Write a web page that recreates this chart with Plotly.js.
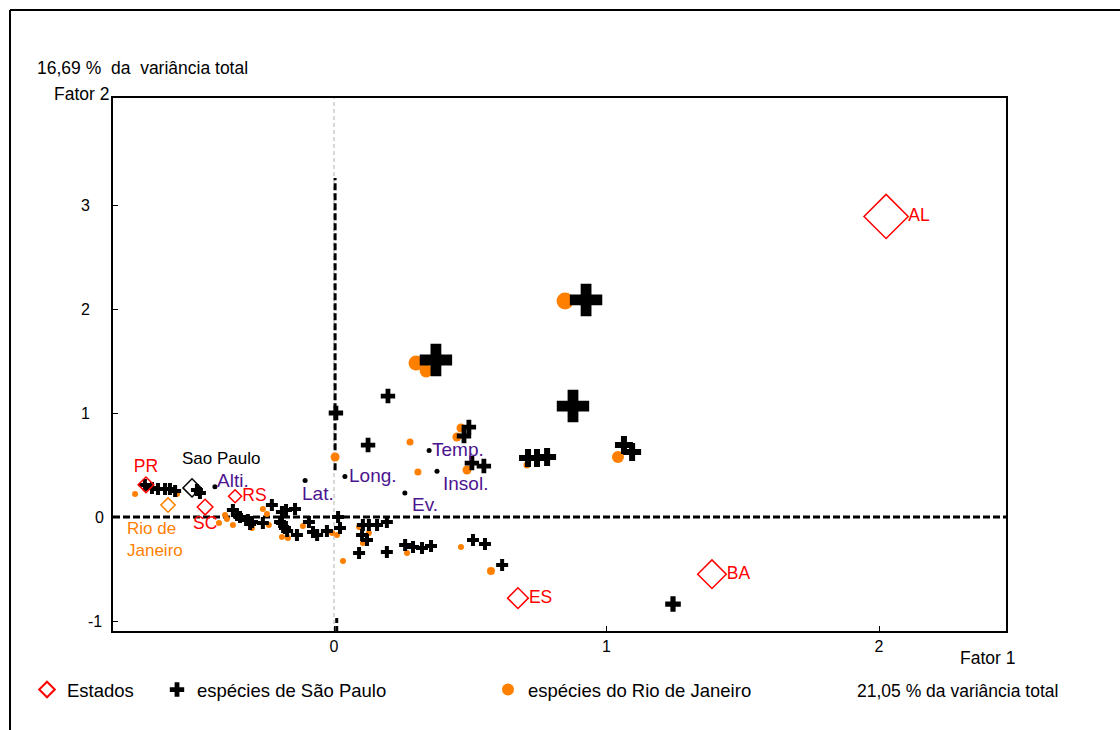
<!DOCTYPE html>
<html>
<head>
<meta charset="utf-8">
<script src="https://cdn.plot.ly/plotly-3.0.1.min.js"></script>
<style>html,body{margin:0;padding:0;background:#fff;}#chart{width:1120px;height:730px;}</style>
</head>
<body>
<div id="chart"></div>
<script>
// ---- Axis ticks ----
const xTickVals = [0, 1, 2];
const xTickText = ['0', '1', '2'];
const yTickVals = [-1, 0, 1, 2, 3];
const yTickText = ['-1', '0', '1', '2', '3'];
const yTickShift = [-9, -7, -21, -21, -21];

// ---- Estados (states) ----
const stateNames = ['PR', 'SC', 'RS', 'ES', 'BA', 'AL'];
const stateF1 = [-0.69, -0.473, -0.363, 0.675, 1.387, 2.026];
const stateF2 = [0.31, 0.096, 0.20, -0.78, -0.55, 2.89];
const stateSize = [12, 12, 10, 16, 22, 34];
const stateTextPos = ['top center', 'bottom center', 'middle right', 'middle right', 'middle right', 'middle right'];

// ---- Group centroids ----
const groupNames = ['Sao Paulo', 'Rio de<br>Janeiro'];
const groupF1 = [-0.521, -0.609];
const groupF2 = [0.28, 0.115];
const groupShiftX = [29, -13];
const groupShiftY = [29, -34];

// ---- Environmental variables ----
const varNames = ['Alti.', 'Lat.', 'Long.', 'Temp.', 'Insol.', 'Ev.'];
const varF1 = [-0.437, -0.106, 0.04, 0.349, 0.378, 0.26];
const varF2 = [0.29, 0.35, 0.39, 0.64, 0.44, 0.23];
const varShiftX = [18, 13, 28, 29, 28, 20];
const varShiftY = [6, -13, 1, 1, -12, -11];

// ---- espécies de São Paulo ----
const spF1 = [0.925, 0.374, 0.877, 1.064, 1.094, 0.712, 0.745, 0.782, 0.198, 0.007,
  0.495, 0.477, 0.125, 0.506, 0.550, 1.244,
  -0.694, -0.668, -0.646, -0.620, -0.602, -0.583, -0.503, -0.492,
  -0.371, -0.356, -0.345, -0.316, -0.301, -0.261, -0.228, -0.191, -0.176, -0.143,
  -0.191, -0.180, -0.172, -0.136, -0.092, -0.077, -0.062, -0.026, 0.015, 0.022,
  0.106, 0.128, 0.158, 0.194, 0.103, 0.121, 0.092, 0.194,
  0.261, 0.290, 0.323, 0.356, 0.510, 0.554, 0.617, -0.308, -0.198];
const spF2 = [2.087, 1.510, 1.067, 0.692, 0.625, 0.567, 0.567, 0.577, 1.163, 1.0,
  0.865, 0.779, 0.692, 0.519, 0.490, -0.837,
  0.308, 0.279, 0.269, 0.269, 0.269, 0.250, 0.260, 0.231,
  0.067, 0.019, 0.0, -0.029, -0.048, -0.058, 0.115, 0.048, 0.067, 0.077,
  -0.058, -0.106, -0.135, -0.173, -0.048, -0.144, -0.173, -0.135, 0.0, -0.106,
  -0.077, -0.077, -0.077, -0.048, -0.173, -0.221, -0.346, -0.337,
  -0.269, -0.288, -0.298, -0.279, -0.221, -0.260, -0.462, -0.067, -0.048];
const spSize = [27, 27, 27, 15, 15, 15, 15, 15, 12, 12,
  12, 12, 12, 12, 12, 13,
  10, 10, 10, 10, 10, 10, 10, 10,
  10, 10, 10, 10, 10, 10, 10, 10, 10, 10,
  10, 10, 10, 10, 10, 10, 10, 10, 10, 10,
  10, 10, 10, 10, 10, 10, 10, 10,
  10, 10, 10, 10, 10, 10, 10, 10, 10];

// ---- espécies do Rio de Janeiro ----
const rjF1 = [0.848, 0.301, 0.338, 1.042, 0.466, 0.451, 0.488, 0.708,
  0.004, 0.279, 0.308, -0.730, -0.576, -0.400, -0.393, -0.422, -0.371, -0.301,
  -0.261, -0.246, -0.191, -0.169, -0.114, -0.007, 0.011, 0.033, 0.092, 0.128,
  0.106, 0.268, 0.466, 0.576, -0.239];
const rjF2 = [2.077, 1.481, 1.404, 0.577, 0.856, 0.769, 0.452, 0.50,
  0.577, 0.721, 0.433, 0.221, 0.221, 0.019, -0.019, -0.058, -0.077, -0.106,
  0.077, 0.029, -0.192, -0.202, -0.087, -0.154, -0.173, -0.423, -0.096, -0.154,
  -0.25, -0.346, -0.288, -0.519, -0.077];
const rjSize = [17, 15, 13, 12, 9, 9, 9, 7,
  9, 7, 7, 6, 6, 6, 6, 6, 6, 6,
  6, 6, 6, 6, 6, 6, 6, 6, 6, 6,
  6, 6, 6, 8, 6];

const FONT = 'Liberation Sans, Arial, sans-serif';
const ORANGE = '#ff8000';
const PURPLE = '#4b1490';

// pixel helpers for paper coords (plot area 113..1006 x 98..631)
const px = x => (x - 113) / 893;
const py = y => (631 - y) / 533;

const traces = [
  {
    type: 'scatter', mode: 'markers', name: 'espécies do Rio de Janeiro',
    x: rjF1, y: rjF2, legend: 'legend3',
    marker: {symbol: 'circle', color: ORANGE, size: rjSize, opacity: 1, line: {width: 0}},
    hoverinfo: 'x+y'
  },
  {
    type: 'scatter', mode: 'markers', name: 'espécies de São Paulo',
    x: spF1, y: spF2, legend: 'legend2',
    marker: {symbol: 'cross', color: '#000', size: spSize, opacity: 1, line: {width: 0}},
    hoverinfo: 'x+y'
  },
  {
    type: 'scatter', mode: 'markers+text', name: 'Estados',
    x: stateF1, y: stateF2, text: stateNames, textposition: stateTextPos,
    legend: 'legend',
    textfont: {family: FONT, size: 17.5, color: '#ff0000'},
    marker: {symbol: 'diamond-open', color: '#ff0000', size: stateSize, opacity: 1, line: {width: 1.5, color: '#ff0000'}},
    cliponaxis: false
  },
  {
    type: 'scatter', mode: 'markers', showlegend: false,
    x: [groupF1[0]], y: [groupF2[0]],
    marker: {symbol: 'diamond-open', color: '#000', size: 14, line: {width: 1.5}}
  },
  {
    type: 'scatter', mode: 'markers', showlegend: false,
    x: [groupF1[1]], y: [groupF2[1]],
    marker: {symbol: 'diamond-open', color: ORANGE, size: 11, line: {width: 1.5}}
  },
  {
    type: 'scatter', mode: 'markers', showlegend: false,
    x: varF1, y: varF2,
    marker: {symbol: 'circle', color: '#000', size: 5}
  }
];

const legendBase = {
  orientation: 'h', yanchor: 'middle', xanchor: 'left', y: py(690),
  font: {family: FONT, size: 18.5, color: '#000'}, bgcolor: 'rgba(0,0,0,0)',
  itemsizing: 'constant'
};

const annotations = [
  {xref: 'paper', yref: 'paper', x: px(35), y: py(68), xanchor: 'left', yanchor: 'middle', showarrow: false,
   text: '16,69 %  da  variância total', font: {family: FONT, size: 17.5, color: '#000'}},
  {xref: 'paper', yref: 'paper', x: px(52), y: py(94), xanchor: 'left', yanchor: 'middle', showarrow: false,
   text: 'Fator 2', font: {family: FONT, size: 17.5, color: '#000'}},
  {xref: 'paper', yref: 'paper', x: px(958), y: py(658), xanchor: 'left', yanchor: 'middle', showarrow: false,
   text: 'Fator 1', font: {family: FONT, size: 17.5, color: '#000'}},
  {xref: 'paper', yref: 'paper', x: px(855), y: py(691), xanchor: 'left', yanchor: 'middle', showarrow: false,
   text: '21,05 % da variância total', font: {family: FONT, size: 17.5, color: '#000'}}
];
yTickVals.forEach((v, i) => annotations.push({
  xref: 'paper', yref: 'y', x: 0, y: v, text: yTickText[i], showarrow: false,
  xanchor: 'right', yanchor: 'middle', xshift: yTickShift[i],
  font: {family: FONT, size: 16, color: '#000'}
}));
groupNames.forEach((t, i) => annotations.push({
  xref: 'x', yref: 'y', x: groupF1[i], y: groupF2[i], text: t, showarrow: false,
  xshift: groupShiftX[i], yshift: groupShiftY[i], align: 'left',
  font: {family: FONT, size: 17, color: i === 0 ? '#000' : ORANGE}
}));
varNames.forEach((t, i) => annotations.push({
  xref: 'x', yref: 'y', x: varF1[i], y: varF2[i], text: t, showarrow: false,
  xshift: varShiftX[i], yshift: varShiftY[i],
  font: {family: FONT, size: 19, color: PURPLE}
}));

const layout = {
  width: 1120, height: 730,
  margin: {l: 113, r: 114, t: 98, b: 99},
  paper_bgcolor: '#fff', plot_bgcolor: '#fff',
  font: {family: FONT, size: 14, color: '#000'},
  showlegend: true,
  legend: Object.assign({}, legendBase, {x: px(27)}),
  legend2: Object.assign({}, legendBase, {x: px(157)}),
  legend3: Object.assign({}, legendBase, {x: px(488)}),
  xaxis: {
    range: [-0.811, 2.466], tickvals: xTickVals, ticktext: xTickText,
    showgrid: false, zeroline: false, showline: true, mirror: true,
    linecolor: '#000', linewidth: 2, ticks: 'inside', ticklen: 5, tickcolor: '#000',
    tickfont: {family: FONT, size: 16, color: '#000'}
  },
  yaxis: {
    range: [-1.096, 4.029], tickvals: yTickVals, showticklabels: false,
    showgrid: false, zeroline: false, showline: true, mirror: true,
    linecolor: '#000', linewidth: 2, ticks: 'inside', ticklen: 5, tickcolor: '#000'
  },
  shapes: [
    {type: 'line', xref: 'paper', yref: 'paper', x0: px(10), x1: px(1130), y0: py(10), y1: py(10), line: {color: '#000', width: 2}},
    {type: 'line', xref: 'paper', yref: 'paper', x0: px(10), x1: px(10), y0: py(10), y1: py(740), line: {color: '#000', width: 2}},
    {type: 'line', xref: 'x', yref: 'paper', x0: 0, x1: 0, y0: 0, y1: 1, layer: 'below', line: {color: '#b0b0b0', width: 1, dash: '4px,3px'}},
    {type: 'line', xref: 'paper', yref: 'y', x0: 0, x1: 1, y0: 0, y1: 0, layer: 'below', line: {color: '#000', width: 3, dash: '7px,3px'}},
    {type: 'line', xref: 'x', yref: 'y', x0: 0.004, x1: 0.004, y0: 0.45, y1: 3.26, layer: 'below', line: {color: '#000', width: 3, dash: '7px,3px'}},
    {type: 'line', xref: 'x', yref: 'y', x0: 0.01, x1: 0.01, y0: -1.096, y1: -0.96, layer: 'below', line: {color: '#000', width: 3, dash: '5px,3px'}}
  ],
  annotations: annotations
};

Plotly.newPlot('chart', traces, layout, {displayModeBar: false, staticPlot: true});
</script>
</body>
</html>
